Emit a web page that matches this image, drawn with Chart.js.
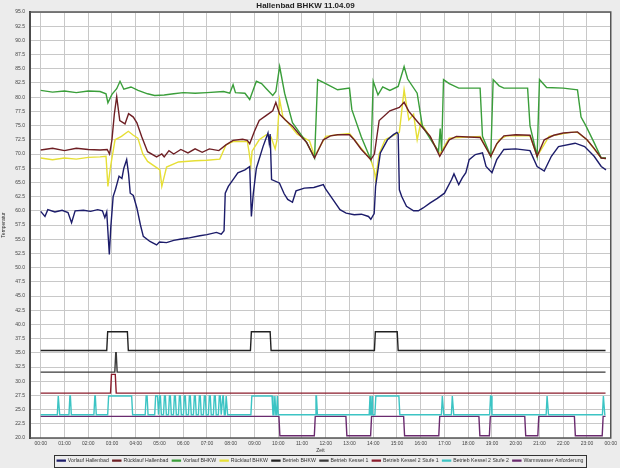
<!DOCTYPE html>
<html>
<head>
<meta charset="utf-8">
<script src="https://cdn.jsdelivr.net/npm/chart.js@4/dist/chart.umd.min.js"></script>
<style>
  html, body { margin: 0; padding: 0; background: #ececec; }
</style>
</head>
<body>
<canvas id="c" width="620" height="468"></canvas>
<script>
// hours since 00:00, value in °C
const vorlaufHallenbad = [
  [0,59.9],[0.18,59.0],[0.3,60.2],[0.6,59.8],[0.9,60.1],[1.15,59.7],[1.3,57.9],[1.45,60.0],[1.8,60.1],[2.1,59.9],
  [2.4,60.2],[2.6,60.0],[2.7,58.8],[2.78,59.8],[2.85,55.0],[2.89,52.3],[2.95,57.0],[3.05,62.5],[3.15,63.8],[3.3,66.1],
  [3.42,65.7],[3.5,67.5],[3.62,69.0],[3.7,66.5],[3.77,63.1],[3.9,62.7],[4.05,60.5],[4.2,57.5],[4.32,55.5],[4.6,54.6],
  [4.88,54.0],[5.0,54.5],[5.3,54.4],[5.6,54.8],[5.86,55.0],[6.2,55.2],[6.7,55.6],[7.0,55.8],[7.4,56.2],[7.6,55.9],
  [7.72,56.5],[7.77,63.1],[7.9,64.3],[8.1,65.5],[8.3,66.7],[8.6,67.2],[8.8,67.8],[8.87,59.0],[8.95,63.0],[9.08,67.5],
  [9.36,71.3],[9.57,73.7],[9.62,72.0],[9.66,73.5],[9.72,65.5],[10.05,64.9],[10.25,63.0],[10.4,62.0],[10.6,61.5],[10.75,63.5],
  [11.1,64.0],[11.5,64.1],[11.9,64.6],[12.0,63.8],[12.3,62.0],[12.6,60.2],[12.86,59.6],[13.2,59.3],[13.5,59.4],[13.8,59.0],
  [13.9,58.5],[14.04,59.5],[14.1,64.3],[14.3,70.2],[14.6,72.5],[14.85,73.4],[15.0,73.8],[15.05,73.5],[15.1,63.7],[15.2,62.5],
  [15.4,60.8],[15.7,60.0],[15.9,60.0],[16.1,60.5],[16.4,61.4],[16.7,62.2],[17.0,63.1],[17.3,65.5],[17.4,66.5],[17.6,64.6],
  [17.75,65.8],[17.9,66.7],[18.04,69.0],[18.3,69.9],[18.6,70.2],[18.75,67.8],[19.0,66.7],[19.2,69.0],[19.5,70.8],[20.0,70.9],
  [20.6,70.6],[20.9,67.8],[21.2,67.0],[21.5,69.6],[21.8,71.3],[22.5,71.9],[22.9,71.3],[23.3,69.6],[23.6,67.8],[23.8,67.2]
];
const ruecklaufHallenbad = [
  [0,70.7],[0.5,71.0],[1.0,70.6],[1.5,71.0],[2.0,70.8],[2.5,70.7],[2.8,70.8],[2.9,70.0],[3.0,72.5],[3.1,77.0],
  [3.2,80.1],[3.33,75.9],[3.55,75.3],[3.7,77.1],[3.9,76.5],[4.05,75.5],[4.25,73.1],[4.5,70.4],[4.88,69.5],[5.1,70.0],
  [5.2,69.5],[5.4,70.6],[5.6,70.0],[5.9,70.8],[6.2,70.2],[6.5,70.9],[6.8,70.3],[7.1,70.9],[7.5,70.6],[7.8,71.6],
  [8.1,72.4],[8.5,72.6],[8.7,72.4],[8.8,71.8],[9.0,74.0],[9.2,75.9],[9.5,76.8],[9.77,77.6],[9.9,79.1],[10.06,77.0],
  [10.3,76.0],[10.6,74.9],[10.9,73.4],[11.2,72.0],[11.53,69.3],[11.9,72.5],[12.2,73.2],[12.5,73.4],[13.0,73.4],[13.2,72.5],
  [13.5,70.8],[13.9,69.0],[14.05,70.0],[14.25,75.9],[14.7,77.6],[15.1,78.2],[15.3,79.1],[15.5,77.5],[15.9,75.5],[16.4,73.1],
  [16.8,69.6],[17.2,72.5],[17.5,73.1],[18.0,73.0],[18.5,72.9],[18.95,69.6],[19.2,71.8],[19.5,73.2],[20.0,73.4],[20.6,73.3],
  [20.9,69.6],[21.2,72.5],[21.6,73.3],[22.0,73.7],[22.6,73.9],[23.0,72.5],[23.3,71.0],[23.6,69.3],[23.8,69.2]
];
const vorlaufBHKW = [
  [0,81.2],[0.5,80.9],[1.0,81.1],[1.5,80.8],[2.0,81.1],[2.5,81.0],[2.75,80.6],[2.83,79.0],[3.0,80.5],[3.2,81.5],
  [3.34,82.8],[3.5,81.4],[3.8,81.8],[4.1,81.2],[4.5,80.6],[4.8,80.3],[5.2,80.4],[5.6,80.6],[6.0,80.8],[6.5,80.7],
  [7.0,80.8],[7.7,81.0],[7.96,80.7],[8.1,82.2],[8.2,80.8],[8.6,80.7],[8.8,79.6],[9.08,82.8],[9.3,82.4],[9.5,81.5],
  [9.77,80.3],[9.9,81.0],[10.06,85.4],[10.27,80.7],[10.6,75.5],[11.2,72.0],[11.53,69.3],[11.66,83.1],[12.0,82.4],[12.5,81.3],
  [13.0,81.6],[13.1,77.8],[13.5,73.0],[13.9,69.0],[14.0,82.8],[14.2,80.4],[14.4,81.8],[14.7,81.2],[15.05,81.9],[15.3,85.4],
  [15.45,83.2],[15.85,80.7],[16.07,74.9],[16.5,72.0],[16.75,70.5],[16.82,74.5],[16.88,70.5],[16.96,83.1],[17.2,82.4],[17.6,81.6],
  [18.5,81.6],[18.6,73.1],[18.95,69.6],[19.05,83.1],[19.3,82.0],[19.5,81.6],[20.5,81.6],[20.6,75.0],[20.9,69.6],[21.0,83.1],
  [21.3,81.7],[22.0,81.6],[22.6,81.3],[22.75,76.5],[22.95,75.0],[23.3,72.0],[23.6,69.3],[23.8,69.3]
];
const ruecklaufBHKW = [
  [0,69.3],[0.5,69.0],[1.0,69.3],[1.5,69.1],[2.0,69.4],[2.5,69.5],[2.75,69.6],[2.83,64.3],[2.95,68.0],[3.13,72.5],
  [3.4,73.1],[3.69,74.0],[3.9,73.3],[4.09,72.8],[4.3,70.0],[4.5,68.7],[5.02,67.2],[5.1,64.3],[5.3,67.7],[5.8,68.6],
  [6.5,68.8],[7.0,68.9],[7.54,69.1],[7.8,71.6],[8.1,72.2],[8.7,72.2],[8.77,70.4],[8.85,68.0],[8.9,70.5],[9.2,72.5],
  [9.5,73.4],[9.7,73.0],[9.87,70.9],[9.95,72.5],[10.06,79.6],[10.2,76.5],[10.35,75.8],[10.8,73.5],[11.32,72.3],[11.53,69.6],
  [12.0,73.1],[12.5,73.4],[13.0,73.6],[13.5,71.0],[13.9,69.0],[14.05,67.0],[14.1,65.5],[14.25,70.0],[14.5,72.5],[15.1,73.8],
  [15.3,81.3],[15.5,76.0],[15.7,77.0],[15.85,72.5],[16.0,75.5],[16.4,73.0],[16.8,70.0],[17.2,72.8],[18.5,73.1],[18.95,69.6],
  [19.3,72.5],[19.6,73.2],[20.6,73.2],[20.9,69.6],[21.4,73.1],[22.3,73.8],[22.6,73.8],[23.0,72.5],[23.6,69.3],[23.8,69.2]
];

// on/off channels: [start, end] hours of each "on" period, plotted as off/on levels
const endHour = 23.78;
const betriebBHKW = [[2.78,3.69],[8.83,9.7],[14.05,15.05]];
const betriebBHKWLevels = [35.4, 38.7];
const betriebKessel1 = [[3.12,3.22]];
const betriebKessel1Levels = [31.6, 35.0];
const kessel2Stufe1 = [[2.94,3.18]];
const kessel2Stufe1Levels = [27.9, 31.2];
const kessel2Stufe2 = [
  [0.7,0.8],[1.19,1.29],[2.24,2.34],[2.82,3.87],[4.4,4.52],[4.8,4.96],[4.97,5.08],[5.17,5.29],[5.38,5.5],[5.59,5.71],
  [5.8,5.92],[6.01,6.13],[6.22,6.34],[6.43,6.55],[6.64,6.76],[6.85,6.97],[7.06,7.18],[7.27,7.39],[7.48,7.6],[7.63,7.73],
  [7.77,7.87],[8.85,9.78],[9.82,9.9],[9.93,10.0],[11.55,11.65],[13.83,13.9],[13.92,13.99],[14.07,15.12],[16.87,16.97],
  [17.29,17.39],[18.9,19.0],[21.28,21.38],[23.65,23.75]
];
const kessel2Stufe2Levels = [24.1, 27.4];
// warm water: listed periods are the low (off) ones
const warmwasserAus = [[10.03,11.56],[12.85,13.93],[15.28,16.8],[18.45,18.93],[20.38,20.97],[22.47,23.68]];
const warmwasserLevels = [23.8, 20.4];

const hourTicks = [0,1,2,3,4,5,6,7,8,9,10,11,12,13,14,15,16,17,18,19,20,21,22,23,24];

const toPts = arr => arr.map(([x, y]) => ({x, y}));
function steps(list, [base, level]) {
  const pts = [{x: 0, y: base}];
  list.forEach(([a, b]) => {
    const r = Math.min(0.04, (b - a) / 2);
    pts.push({x: a, y: base}, {x: a + r, y: level}, {x: b - r, y: level}, {x: b, y: base});
  });
  pts.push({x: endHour, y: base});
  return pts;
}

function ds(label, data, color) {
  return {label, data, borderColor: color, backgroundColor: color, borderWidth: 1.4,
          pointRadius: 0, tension: 0, fill: false};
}

const plotFrame = {
  id: 'plotFrame',
  beforeDraw(chart) {
    const {ctx, chartArea: a} = chart;
    ctx.save();
    ctx.fillStyle = '#ffffff';
    ctx.fillRect(a.left, a.top, a.right - a.left, a.bottom - a.top);
    ctx.restore();
  },
  afterDraw(chart) {
    const {ctx, chartArea: a} = chart;
    ctx.save();
    ctx.strokeStyle = '#555';
    ctx.lineWidth = 1.5;
    ctx.strokeRect(a.left, a.top, a.right - a.left, a.bottom - a.top);
    const hb = chart.legend.legendHitBoxes;
    if (hb && hb.length) {
      const l = Math.min(...hb.map(h => h.left)) - 3;
      const r = Math.max(...hb.map(h => h.left + h.width)) + 3;
      const t = hb[0].top - 3.5;
      const b = hb[0].top + hb[0].height + 3.5;
      ctx.strokeStyle = '#333';
      ctx.lineWidth = 1;
      ctx.strokeRect(Math.round(l) + 0.5, Math.round(t) + 0.5, Math.round(r - l), Math.round(b - t));
    }
    ctx.restore();
  }
};

new Chart(document.getElementById('c'), {
  type: 'line',
  data: {
    datasets: [
      ds('Vorlauf Hallenbad', toPts(vorlaufHallenbad), '#1c1c6a'),
      ds('Rücklauf Hallenbad', toPts(ruecklaufHallenbad), '#6e1f24'),
      ds('Vorlauf BHKW', toPts(vorlaufBHKW), '#3a9e3a'),
      ds('Rücklauf BHKW', toPts(ruecklaufBHKW), '#e6df35'),
      ds('Betrieb BHKW', steps(betriebBHKW, betriebBHKWLevels), '#222222'),
      ds('Betrieb Kessel 1', steps(betriebKessel1, betriebKessel1Levels), '#3a3a3a'),
      ds('Betrieb Kessel 2 Stufe 1', steps(kessel2Stufe1, kessel2Stufe1Levels), '#8b1c2c'),
      ds('Betrieb Kessel 2 Stufe 2', steps(kessel2Stufe2, kessel2Stufe2Levels), '#3cc4c4'),
      ds('Warmwasser Anforderung', steps(warmwasserAus, warmwasserLevels), '#6a2a6e')
    ]
  },
  options: {
    responsive: false,
    animation: false,
    layout: {padding: {left: 0, right: 9, top: 0, bottom: 0}},
    scales: {
      x: {
        type: 'linear',
        min: -0.45,
        max: 24,
        afterBuildTicks: s => { s.ticks = hourTicks.map(v => ({value: v})); },
        afterFit: s => { s.height = 16; },
        grid: {color: '#c8c8c8', drawTicks: false},
        border: {display: false},
        ticks: {
          autoSkip: false, maxRotation: 0, padding: 3, color: '#444',
          font: {family: 'Liberation Sans', size: 5},
          callback: v => String(v % 24).padStart(2, '0') + ':00'
        },
        title: {display: true, text: 'Zeit', color: '#333', padding: {top: 1, bottom: 0},
                font: {family: 'Liberation Sans', size: 5}}
      },
      y: {
        min: 20,
        max: 95,
        afterFit: s => { s.width = 30; },
        grid: {color: '#c8c8c8', drawTicks: false},
        border: {display: true, color: '#333', width: 2},
        ticks: {
          stepSize: 2.5, autoSkip: false, padding: 5, color: '#444',
          font: {family: 'Liberation Sans', size: 5},
          callback: v => v.toFixed(1)
        },
        title: {display: true, text: 'Temperatur', color: '#333', padding: {top: 1, bottom: 0},
                font: {family: 'Liberation Sans', size: 5}}
      }
    },
    plugins: {
      title: {
        display: true,
        text: 'Hallenbad BHKW 11.04.09',
        color: '#222',
        font: {family: 'Liberation Sans', size: 8, weight: 'bold', lineHeight: 1},
        padding: {top: 2, bottom: 2}
      },
      legend: {
        position: 'bottom',
        fullSize: false,
        maxHeight: 14,
        labels: {
          boxWidth: 8, boxHeight: 1, padding: 4, color: '#333',
          font: {family: 'Liberation Sans', size: 5.2}
        }
      },
      tooltip: {enabled: false}
    }
  },
  plugins: [plotFrame]
});
</script>
</body>
</html>
